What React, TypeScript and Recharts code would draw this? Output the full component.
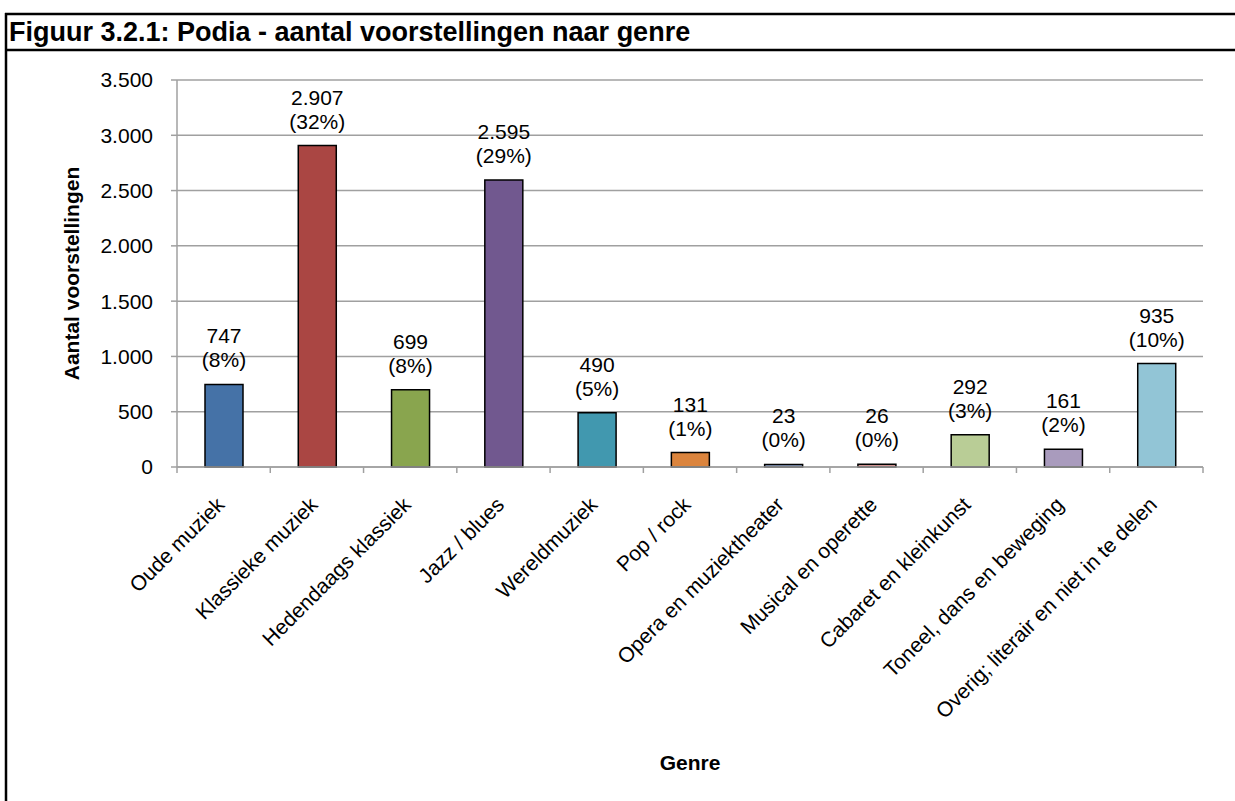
import React from 'react';
import { BarChart, Bar, XAxis, YAxis, CartesianGrid, Cell, LabelList } from 'recharts';

const categories = [
  'Oude muziek',
  'Klassieke muziek',
  'Hedendaags klassiek',
  'Jazz / blues',
  'Wereldmuziek',
  'Pop / rock',
  'Opera en muziektheater',
  'Musical en operette',
  'Cabaret en kleinkunst',
  'Toneel, dans en beweging',
  'Overig; literair en niet in te delen',
];
const values = [747, 2907, 699, 2595, 490, 131, 23, 26, 292, 161, 935];
const percentages = [8, 32, 8, 29, 5, 1, 0, 0, 3, 2, 10];
const colors = [
  '#4572A7', '#AA4643', '#89A54E', '#71588F', '#4198AF', '#DB843D',
  '#93A9CF', '#D19392', '#B9CD96', '#A99BBD', '#92C5D6',
];
const yTicks = [0, 500, 1000, 1500, 2000, 2500, 3000, 3500];

const title = 'Figuur 3.2.1: Podia - aantal voorstellingen naar genre';
const yTitle = 'Aantal voorstellingen';
const xTitle = 'Genre';

const data = categories.map((c, i) => ({ genre: c, value: values[i], pct: percentages[i] }));

const W = 1235;
const H = 801;
const PLOT_LEFT = 177;
const PLOT_RIGHT = 1203;
const PLOT_TOP = 80;
const PLOT_BOTTOM = 467;
const FONT = '"Liberation Sans", Arial, Helvetica, sans-serif';
const GRID = '#a0a0a0';

const fmt = (v: number) => String(v).replace(/\B(?=(\d{3})+(?!\d))/g, '.');

const band = (PLOT_RIGHT - PLOT_LEFT) / categories.length;

const XTick = (props: any) => {
  const { x, y, payload, index } = props;
  const left = x - band / 2;
  const right = x + band / 2;
  const ax = x + 2;
  const ay = y + 33;
  return (
    <g>
      <line x1={left} y1={PLOT_BOTTOM} x2={left} y2={PLOT_BOTTOM + 6} stroke={GRID} strokeWidth={1.5} />
      {index === categories.length - 1 && (
        <line x1={right} y1={PLOT_BOTTOM} x2={right} y2={PLOT_BOTTOM + 6} stroke={GRID} strokeWidth={1.5} />
      )}
      <text
        x={ax}
        y={ay}
        textAnchor="end"
        transform={`rotate(-45 ${ax} ${ay})`}
        fontSize={21}
        fontFamily={FONT}
        fill="#000"
      >
        {payload.value}
      </text>
    </g>
  );
};

const renderLabel = (props: any) => {
  const { x, y, width, index } = props;
  const cx = Number(x) + Number(width) / 2;
  const top = Number(y);
  return (
    <text textAnchor="middle" fontSize={21} fontFamily={FONT} fill="#000">
      <tspan x={cx} y={top - 41}>{fmt(values[index])}</tspan>
      <tspan x={cx} y={top - 17}>({percentages[index]}%)</tspan>
    </text>
  );
};

export default function App() {
  return (
    <div style={{ position: 'absolute', left: 0, top: 0, width: W, height: H, background: '#fff' }}>
      <BarChart
        width={W}
        height={H}
        data={data}
        margin={{ top: PLOT_TOP, right: W - PLOT_RIGHT, left: PLOT_LEFT - 100, bottom: 0 }}
        barCategoryGap="30%"
      >
        <CartesianGrid vertical={false} stroke={GRID} strokeWidth={1.5} />
        <XAxis
          dataKey="genre"
          interval={0}
          height={H - PLOT_BOTTOM}
          tickLine={false}
          tickSize={6}
          tickMargin={0}
          axisLine={{ stroke: GRID, strokeWidth: 1.5 }}
          tick={<XTick />}
        />
        <YAxis
          width={100}
          domain={[0, 3500]}
          ticks={yTicks}
          interval={0}
          tickFormatter={fmt}
          tickSize={6}
          tickMargin={18}
          axisLine={{ stroke: GRID, strokeWidth: 1.5 }}
          tickLine={{ stroke: GRID, strokeWidth: 1.5 }}
          tick={{ fontSize: 21, fontFamily: FONT, fill: '#000' }}
        />
        <Bar dataKey="value" barSize={38} stroke="#000" strokeWidth={1.5} isAnimationActive={false}>
          {data.map((d, i) => (
            <Cell key={d.genre} fill={colors[i]} />
          ))}
          <LabelList dataKey="value" content={renderLabel} />
        </Bar>
      </BarChart>
      <svg
        width={W}
        height={H}
        style={{ position: 'absolute', left: 0, top: 0, pointerEvents: 'none' }}
      >
        <line x1={5} y1={14} x2={W} y2={14} stroke="#000" strokeWidth={2.5} />
        <line x1={5} y1={50} x2={W} y2={50} stroke="#000" strokeWidth={2.5} />
        <line x1={6} y1={13} x2={6} y2={H} stroke="#000" strokeWidth={2.5} />
        <text x={9} y={41} fontSize={27} fontWeight="bold" fontFamily={FONT} fill="#000">
          {title}
        </text>
        <text
          x={79}
          y={(PLOT_TOP + PLOT_BOTTOM) / 2}
          textAnchor="middle"
          transform={`rotate(-90 79 ${(PLOT_TOP + PLOT_BOTTOM) / 2})`}
          fontSize={21}
          fontWeight="bold"
          fontFamily={FONT}
          fill="#000"
        >
          {yTitle}
        </text>
        <text
          x={(PLOT_LEFT + PLOT_RIGHT) / 2}
          y={770}
          textAnchor="middle"
          fontSize={21}
          fontWeight="bold"
          fontFamily={FONT}
          fill="#000"
        >
          {xTitle}
        </text>
      </svg>
    </div>
  );
}
